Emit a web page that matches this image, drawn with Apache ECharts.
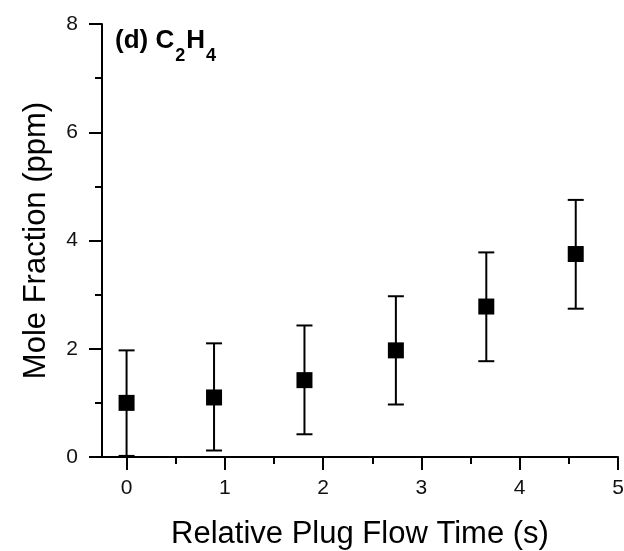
<!DOCTYPE html>
<html>
<head>
<meta charset="utf-8">
<script src="https://cdn.jsdelivr.net/npm/echarts@6/dist/echarts.min.js"></script>
<style>html,body{margin:0;padding:0;background:#fff;}#c{width:624px;height:551px;}</style>
</head>
<body>
<div id="c"></div>
<script>
// Data
var timeX = [0, 0.89, 1.81, 2.74, 3.66, 4.57];
var moleY = [1.0, 1.1, 1.42, 1.97, 2.78, 3.75];
var errLow = [0.02, 0.12, 0.42, 0.97, 1.77, 2.74];
var errHigh = [1.97, 2.1, 2.43, 2.97, 3.78, 4.75];
var xTicks = [0, 1, 2, 3, 4, 5];
var xMinorTicks = [0.5, 1.5, 2.5, 3.5, 4.5];

var FONT = 'Liberation Sans, Arial, sans-serif';
var chart = echarts.init(document.getElementById('c'), null, {renderer: 'canvas'});

var scatterData = timeX.map(function (x, i) { return [x, moleY[i]]; });
var errData = timeX.map(function (x, i) { return [x, errLow[i], errHigh[i]]; });

var axisLineStyle = {color: '#000', width: 2};

chart.setOption({
  animation: false,
  backgroundColor: '#fff',
  title: {
    text: '{b|(d) C}{s|2}{b|H}{s|4}',
    left: 115, top: 17, padding: 0,
    textStyle: {
      rich: {
        b: {fontFamily: FONT, fontWeight: 'bold', fontSize: 26, color: '#000'},
        s: {fontFamily: FONT, fontWeight: 'bold', fontSize: 18, color: '#000', padding: [30, 1, 0, 1]}
      }
    }
  },
  grid: {left: 102, right: 6, top: 24, bottom: 94, containLabel: false, outerBoundsMode: 'none'},
  xAxis: [{
    type: 'value', min: -0.25, max: 5,
    splitLine: {show: false},
    axisLine: {lineStyle: axisLineStyle, onZero: false},
    axisTick: {show: true, length: 13, lineStyle: {color: '#000', width: 2}, customValues: xTicks},
    axisLabel: {customValues: xTicks, fontFamily: FONT, fontSize: 21, color: '#111', margin: 21},
    name: 'Relative Plug Flow Time (s)', nameLocation: 'middle', nameGap: 62,
    nameTextStyle: {fontFamily: FONT, fontSize: 31, color: '#000'}
  }, {
    type: 'value', min: -0.25, max: 5, position: 'bottom',
    splitLine: {show: false},
    axisLine: {show: false},
    axisTick: {show: true, length: 7, lineStyle: {color: '#000', width: 2}, customValues: xMinorTicks},
    axisLabel: {show: false}
  }],
  yAxis: {
    type: 'value', min: 0, max: 8, interval: 2,
    splitLine: {show: false},
    axisLine: {lineStyle: axisLineStyle, onZero: false},
    axisTick: {show: true, length: 13, lineStyle: {color: '#000', width: 2}},
    minorTick: {show: true, splitNumber: 2, length: 7, lineStyle: {color: '#000', width: 2}},
    axisLabel: {fontFamily: FONT, fontSize: 21, color: '#111', margin: 24},
    name: 'Mole Fraction (ppm)', nameLocation: 'middle', nameGap: 50,
    nameTextStyle: {fontFamily: FONT, fontSize: 31, color: '#000'}
  },
  series: [{
    type: 'custom',
    xAxisIndex: 0,
    data: errData,
    renderItem: function (params, api) {
      var x = api.value(0);
      var lo = api.coord([x, api.value(1)]);
      var hi = api.coord([x, api.value(2)]);
      var hw = 8;
      var st = {stroke: '#000', lineWidth: 2};
      return {
        type: 'group',
        children: [
          {type: 'line', shape: {x1: lo[0], y1: lo[1], x2: hi[0], y2: hi[1]}, style: st},
          {type: 'line', shape: {x1: lo[0] - hw, y1: lo[1], x2: lo[0] + hw, y2: lo[1]}, style: st},
          {type: 'line', shape: {x1: hi[0] - hw, y1: hi[1], x2: hi[0] + hw, y2: hi[1]}, style: st}
        ]
      };
    },
    z: 2
  }, {
    type: 'scatter',
    xAxisIndex: 0,
    data: scatterData,
    symbol: 'rect',
    symbolSize: 16,
    itemStyle: {color: '#000', opacity: 1},
    z: 3
  }]
});
</script>
</body>
</html>
